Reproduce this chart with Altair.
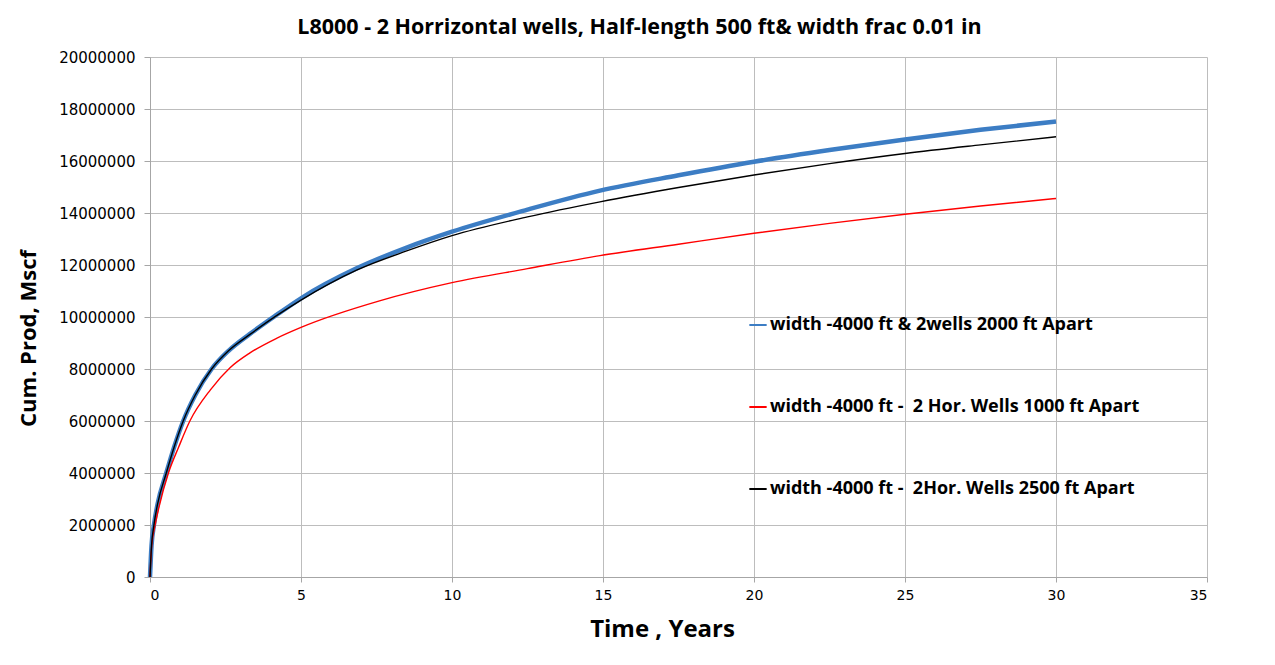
import altair as alt
import pandas as pd

# Series: width 4000 ft & 2 wells 2000 ft apart (blue)
t_blue = [0, 0.05, 0.13, 0.25, 0.54, 0.8, 1.1, 1.5, 2.04, 2.6, 3.31, 4.19, 5.0, 6.84, 8.5,
          10.0, 12.5, 14.9, 17.5, 20.0, 22.5, 25.0, 27.5, 30.0]
v_blue = [0, 1.2e6, 2.0e6, 2.8e6, 4.0e6, 5.0e6, 6.0e6, 7.0e6, 8.0e6, 8.7e6, 9.35e6, 10.08e6, 10.72e6, 11.87e6, 12.67e6,
          13.28e6, 14.13e6, 14.86e6, 15.45e6, 15.97e6, 16.42e6, 16.83e6, 17.2e6, 17.52e6]

# Series: width 4000 ft - 2 Hor. wells 1000 ft apart (red)
t_red = [0, 0.05, 0.17, 0.3, 0.61, 0.95, 1.32, 2.0, 2.65, 3.31, 4.19, 5.0, 7.6,
         10.0, 12.5, 14.9, 17.5, 20.0, 22.5, 25.0, 27.5, 30.0]
v_red = [0, 1.1e6, 2.0e6, 2.7e6, 4.0e6, 5.0e6, 6.0e6, 7.2e6, 8.05e6, 8.62e6, 9.18e6, 9.6e6, 10.62e6,
         11.32e6, 11.86e6, 12.36e6, 12.8e6, 13.22e6, 13.6e6, 13.95e6, 14.27e6, 14.56e6]

# Series: width 4000 ft - 2 Hor. wells 2500 ft apart (black)
t_black = [0, 0.05, 0.13, 0.25, 0.54, 0.8, 1.1, 1.5, 2.04, 2.6, 3.31, 4.19, 5.0, 6.84, 8.5,
           10.0, 12.5, 14.9, 17.5, 20.0, 22.5, 25.0, 27.5, 30.0]
v_black = [0, 1.2e6, 2.0e6, 2.8e6, 4.0e6, 5.0e6, 6.0e6, 7.0e6, 8.0e6, 8.7e6, 9.33e6, 10.05e6, 10.65e6, 11.8e6, 12.54e6,
           13.13e6, 13.85e6, 14.43e6, 14.98e6, 15.46e6, 15.9e6, 16.29e6, 16.62e6, 16.93e6]

names = [
    "width -4000 ft & 2wells 2000 ft Apart",
    "width -4000 ft - \u00a02 Hor. Wells 1000 ft Apart",
    "width -4000 ft - \u00a02Hor. Wells 2500 ft Apart",
]
colors = ["#3C7DC4", "#FF0000", "#000000"]
widths = [4.5, 1.4, 1.4]

x_ticks = [0, 5, 10, 15, 20, 25, 30, 35]
y_ticks = [0, 2000000, 4000000, 6000000, 8000000, 10000000, 12000000, 14000000,
           16000000, 18000000, 20000000]

rows = []
for i, (ts, vs) in enumerate([(t_blue, v_blue), (t_red, v_red), (t_black, v_black)]):
    for t, v in zip(ts, vs):
        rows.append({"t": t, "v": v, "series": names[i], "order": i})
df = pd.DataFrame(rows)

FONT = "Open Sans"
LFONT = "DejaVu Sans"

x_enc = alt.X("t:Q", scale=alt.Scale(domain=[0, 35], nice=False),
              axis=alt.Axis(values=x_ticks, title="Time , Years", format="d",
                            titleX=512, titleY=52, titleAlign="center", titleBaseline="middle",
                            titleFontSize=24, titleFontWeight="bold", titleFont=FONT,
                            labelFontSize=14, labelFont=LFONT, labelPadding=6, tickSize=5))
y_enc = alt.Y("v:Q", scale=alt.Scale(domain=[0, 20000000], nice=False),
              axis=alt.Axis(values=y_ticks, title="Cum. Prod, Mscf", format="d",
                            titleX=-122, titleY=281, titleAngle=270, titleAlign="center",
                            titleBaseline="middle",
                            titleFontSize=22, titleFontWeight="bold", titleFont=FONT,
                            labelFontSize=15, labelFont=LFONT, labelPadding=9, tickSize=6))

color_enc = alt.Color("series:N", scale=alt.Scale(domain=names, range=colors),
                      legend=alt.Legend(orient="none", legendX=598, legendY=258, title=None,
                                        symbolType="stroke", symbolSize=300, symbolStrokeWidth=2,
                                        labelFontSize=18, labelFontWeight="bold", labelFont=FONT,
                                        labelColor="#000000", rowPadding=63, labelOffset=2,
                                        labelLimit=600))

layers = []
for i in range(3):
    layers.append(
        alt.Chart(df[df["order"] == i]).mark_line(strokeWidth=widths[i], interpolate="monotone").encode(
            x=x_enc, y=y_enc, color=color_enc, order=alt.Order("t:Q"))
    )

chart = alt.layer(*layers).properties(
    width=1057, height=520,
    title=alt.TitleParams("L8000 - 2 Horrizontal wells, Half-length 500 ft& width frac 0.01 in",
                          fontSize=21.5, fontWeight="bold", font=FONT, dx=-39, offset=12,
                          color="#000000"),
    autosize=alt.AutoSizeParams(type="none"),
    padding={"left": 142, "top": 49, "right": 50, "bottom": 70},
).configure_view(stroke=None).configure_axis(
    gridColor="#bdbdbd", gridWidth=1, domainColor="#a6a6a6", tickColor="#a6a6a6",
    labelColor="#000000", titleColor="#000000"
)

chart.save("out.html", embed_options={"renderer": "svg", "actions": False})
